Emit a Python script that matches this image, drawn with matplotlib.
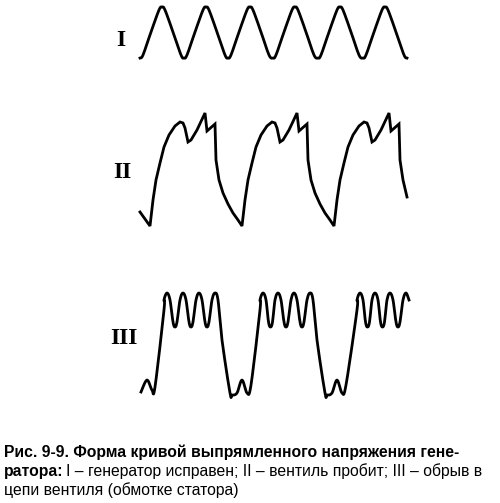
import numpy as np
import matplotlib
matplotlib.use("Agg")
import matplotlib.pyplot as plt

# keypoints in picture pixel coordinates (x, y downward)
wave1_troughs = [140, 184, 228, 273, 318, 363, 407]
wave1_px = [0, 3, 11, 19, 22, 25, 33, 41]
wave1_py = [58, 55, 32, 10, 7, 10, 32, 55]

# wave II: one period (relative x, y) and cycle starts
wave2_start = [(140, 212)]
wave2_px = [0, 3, 6, 10, 14, 19, 25, 30, 33, 35, 38, 41, 47, 55, 57, 65, 66, 69, 73, 78, 83, 88, 92]
wave2_py = [226, 200, 180, 163, 147, 135, 126, 122, 123, 128, 142, 140, 130, 113, 131, 124, 160, 180, 193, 204, 213, 220, 226]
wave2_cycles = [150, 242, 334]
wave2_end = (407, 197)

wave3_peak_x = [[167, 183, 199, 215], [263, 278, 294, 310], [360, 375, 390, 406]]
wave3_lead = [(141, 392), (147, 380), (152, 390), (155, 387)]


def catmull(xs, ys, n=12):
    P = np.column_stack([xs, ys]).astype(float)
    P = np.vstack([P[0], P, P[-1]])
    out = []
    for i in range(1, len(P) - 2):
        p0, p1, p2, p3 = P[i - 1], P[i], P[i + 1], P[i + 2]
        t = np.linspace(0, 1, n, endpoint=False)[:, None]
        out.append(0.5 * ((2 * p1) + (-p0 + p2) * t + (2 * p0 - 5 * p1 + 4 * p2 - p3) * t**2
                          + (-p0 + 3 * p1 - 3 * p2 + p3) * t**3))
    out.append(P[-2][None, :])
    a = np.vstack(out)
    return a[:, 0], a[:, 1]


fig = plt.figure(figsize=(5.0, 5.03), dpi=100)
ax = fig.add_axes([0, 0, 1, 1])
ax.set_xlim(0, 500)
ax.set_ylim(503, 0)
ax.axis("off")
lw = 2.0

# I
xs, ys = [], []
for tr in wave1_troughs[:-1]:
    xs += [tr + p for p in wave1_px]
    ys += wave1_py
xs.append(wave1_troughs[-1]); ys.append(58)
x, y = catmull(xs, ys, n=8)
ax.plot(x, y, color="black", lw=lw)

# II
xs = [wave2_start[0][0]]
ys = [wave2_start[0][1]]
for c in wave2_cycles:
    for px, py in zip(wave2_px, wave2_py):
        if c == wave2_cycles[-1] and px > 69:
            break
        xs.append(c + px)
        ys.append(py)
xs.append(wave2_end[0]); ys.append(wave2_end[1])
ax.plot(xs, ys, color="black", lw=lw, solid_joinstyle="miter")

# III
xs = [p[0] for p in wave3_lead]
ys = [p[1] for p in wave3_lead]
for k, peaks in enumerate(wave3_peak_x):
    xs.append(peaks[0] - 3); ys.append(310)
    for j, pk in enumerate(peaks):
        xs += [pk - 3, pk, pk + 3]
        ys += [300, 293, 300]
        if j < len(peaks) - 1:
            mid = (pk + peaks[j + 1]) / 2
            xs += [mid - 2, mid, mid + 2]
            ys += [322, 327, 322]
    if k < len(wave3_peak_x) - 1:
        xs += [peaks[-1] + 7, peaks[-1] + 15, peaks[-1] + 17, peaks[-1] + 22,
               peaks[-1] + 27, peaks[-1] + 32, peaks[-1] + 36]
        ys += [340, 393, 395, 393, 380, 393, 385]
x, y = catmull(xs, ys, n=6)
ax.plot(x, y, color="black", lw=lw)

# Roman labels
font_lbl = dict(family="Liberation Serif", fontweight="bold", fontsize=17, va="center", ha="center")
ax.text(121, 40, "I", **font_lbl)
ax.text(122, 172, "II", **font_lbl)
ax.text(124, 338, "III", **font_lbl)

# Caption
cf = dict(family="Liberation Sans", fontsize=11.3, va="baseline", ha="left")
ax.text(4, 457, "Рис. 9-9. Форма кривой выпрямленного напряжения гене-", fontweight="bold", **cf)
t = ax.text(4, 476, "ратора:", fontweight="bold", **cf)
fig.canvas.draw()
bb = t.get_window_extent()
inv = ax.transData.inverted()
xr = inv.transform((bb.x1 + 3, 0))[0]
ax.text(xr, 476, "I – генератор исправен; II – вентиль пробит; III – обрыв в", **cf)
ax.text(4, 495, "цепи вентиля (обмотке статора)", **cf)

fig.savefig("out.png", dpi=100)
